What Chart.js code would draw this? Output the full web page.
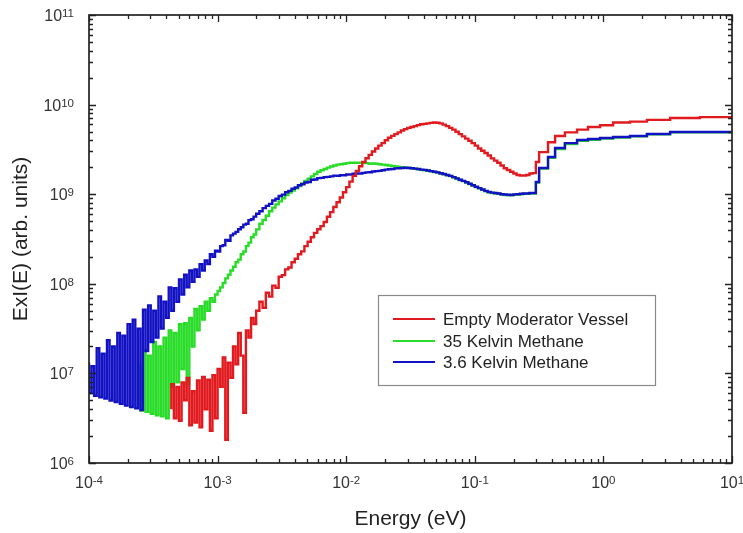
<!DOCTYPE html>
<html>
<head>
<meta charset="utf-8">
<script src="https://cdn.jsdelivr.net/npm/chart.js@4.4.1/dist/chart.umd.min.js"></script>
<style>
html,body{margin:0;padding:0;background:#fff;}
canvas{display:block;}
</style>
</head>
<body>
<canvas id="c" width="743" height="533"></canvas>
<script>
// ---- data ----
const lowEnergy = [1.000e-4,1.047e-4,1.096e-4,1.148e-4,1.202e-4,1.259e-4,1.318e-4,1.380e-4,1.445e-4,1.514e-4,
  1.585e-4,1.660e-4,1.738e-4,1.820e-4,1.905e-4,1.995e-4,2.089e-4,2.188e-4,2.291e-4,2.399e-4,
  2.512e-4,2.630e-4,2.754e-4,2.884e-4,3.020e-4,3.162e-4,3.311e-4,3.467e-4,3.631e-4,3.802e-4,
  3.981e-4,4.169e-4,4.365e-4,4.571e-4,4.786e-4,5.012e-4,5.248e-4,5.495e-4,5.754e-4,6.026e-4,
  6.310e-4,6.607e-4,6.918e-4,7.244e-4,7.586e-4,7.943e-4,8.318e-4,8.710e-4,9.120e-4,9.550e-4,
  1.000e-3,1.047e-3,1.096e-3,1.148e-3,1.202e-3,1.259e-3,1.318e-3,1.380e-3,1.445e-3,1.514e-3,
  1.585e-3,1.660e-3,1.738e-3,1.820e-3,1.905e-3,1.995e-3];

const blueLow = [1.32e7,6.03e6,1.20e7,5.62e6,1.91e7,5.42e6,1.66e7,5.25e6,2.34e7,4.98e6,
  2.00e7,4.79e6,2.82e7,4.57e6,2.63e7,4.37e6,3.55e7,4.20e6,3.98e7,4.07e6,
  3.16e7,3.89e6,5.13e7,1.78e7,5.75e7,2.24e7,5.01e7,2.51e7,7.24e7,3.16e7,
  6.31e7,4.17e7,9.12e7,5.01e7,8.91e7,6.31e7,1.12e8,7.59e7,1.26e8,9.12e7,
  1.41e8,1.05e8,1.45e8,1.20e8,1.66e8,1.41e8,1.82e8,1.66e8,2.14e8,2.00e8,
  2.34e8,2.29e8,2.63e8,2.69e8,3.09e8,3.02e8,3.47e8,3.63e8,3.80e8,4.07e8,
  4.27e8,4.57e8,4.68e8,5.13e8,5.25e8,5.62e8];

const greenLow = [null,null,null,null,null,null,null,null,null,null,
  null,null,null,null,null,null,null,null,null,null,
  1.26e7,3.86e6,1.82e7,3.72e6,1.58e7,3.55e6,2.24e7,3.40e6,2.00e7,3.31e6,
  2.51e7,3.16e6,3.02e7,7.08e6,2.82e7,7.94e6,3.55e7,1.12e7,3.63e7,7.59e6,
  4.17e7,2.00e7,5.25e7,3.02e7,5.62e7,3.98e7,6.31e7,5.01e7,6.92e7,6.31e7,
  7.59e7,8.32e7,9.12e7,1.02e8,1.15e8,1.26e8,1.41e8,1.55e8,1.74e8,1.86e8,
  2.14e8,2.29e8,2.63e8,2.88e8,3.31e8,3.55e8];

const redLow = [null,null,null,null,null,null,null,null,null,null,
  null,null,null,null,null,null,null,null,null,null,
  null,null,null,null,null,null,null,null,null,null,
  null,null,3.98e6,7.59e6,3.16e6,7.08e6,2.95e6,7.94e6,5.01e6,8.91e6,
  2.63e6,6.31e6,2.82e6,8.32e6,2.51e6,9.12e6,3.98e6,8.51e6,2.29e6,9.55e6,
  3.16e6,1.12e7,7.08e6,1.51e7,1.82e6,1.32e7,8.91e6,2.00e7,1.26e7,2.82e7,
  1.58e7,3.63e6,3.02e7,2.51e7,4.17e7,3.55e7];

const energy = [2.113e-3,2.239e-3,2.371e-3,2.512e-3,2.661e-3,2.818e-3,2.985e-3,3.162e-3,3.350e-3,3.548e-3,
  3.758e-3,3.981e-3,4.217e-3,4.467e-3,4.732e-3,5.012e-3,5.309e-3,5.623e-3,5.957e-3,6.310e-3,
  6.683e-3,7.079e-3,7.499e-3,7.943e-3,8.414e-3,8.913e-3,9.441e-3,
  1.000e-2,1.059e-2,1.122e-2,1.189e-2,1.259e-2,1.334e-2,1.413e-2,1.496e-2,1.585e-2,1.679e-2,
  1.778e-2,1.884e-2,1.995e-2,2.113e-2,2.239e-2,2.371e-2,2.512e-2,2.661e-2,2.818e-2,2.985e-2,
  3.162e-2,3.350e-2,3.548e-2,3.758e-2,3.981e-2,4.217e-2,4.467e-2,4.732e-2,5.012e-2,5.309e-2,
  5.623e-2,5.957e-2,6.310e-2,6.683e-2,7.079e-2,7.499e-2,7.943e-2,8.414e-2,8.913e-2,9.441e-2,
  0.1000,0.1059,0.1122,0.1189,0.1259,0.1334,0.1413,0.1496,0.1585,0.1679,
  0.1778,0.1884,0.1995,0.2113,0.2239,0.2371,0.2512,0.2661,0.2818,0.2985,0.3162,
  0.371,0.421,0.502,0.624,0.759,0.942,1.19,1.61,2.18,3.30,5.64,10];

const redMain = [5.0e7,6.31e7,5.4e7,7.94e7,7.2e7,9.55e7,9.0e7,1.20e8,1.25e8,1.45e8,
  1.52e8,1.74e8,1.90e8,2.14e8,2.30e8,2.63e8,2.95e8,3.31e8,3.70e8,4.07e8,
  4.40e8,4.90e8,5.60e8,6.31e8,7.20e8,8.13e8,9.20e8,1.05e9,1.20e9,1.38e9,
  1.60e9,1.82e9,2.05e9,2.29e9,2.52e9,2.75e9,3.00e9,3.24e9,3.48e9,3.72e9,
  4.00e9,4.27e9,4.48e9,4.68e9,4.90e9,5.13e9,5.32e9,5.50e9,5.62e9,5.75e9,
  5.90e9,6.03e9,6.10e9,6.17e9,6.25e9,6.31e9,6.28e9,6.17e9,5.98e9,5.75e9,
  5.50e9,5.25e9,4.97e9,4.68e9,4.42e9,4.17e9,3.95e9,3.72e9,3.48e9,3.24e9,
  3.05e9,2.88e9,2.70e9,2.51e9,2.37e9,2.24e9,2.09e9,1.95e9,1.86e9,1.78e9,
  1.70e9,1.64e9,1.62e9,1.62e9,1.64e9,1.70e9,1.72e9,2.29e9,
  2.95e9,3.80e9,4.47e9,4.90e9,5.25e9,5.62e9,5.89e9,6.31e9,6.46e9,6.76e9,7.08e9,7.24e9];

const greenMain = [4.05e8,4.68e8,5.15e8,5.75e8,6.45e8,7.08e8,7.70e8,8.32e8,9.00e8,9.77e8,
  1.04e9,1.10e9,1.16e9,1.23e9,1.32e9,1.41e9,1.49e9,1.58e9,1.68e9,1.78e9,
  1.85e9,1.91e9,1.98e9,2.04e9,2.09e9,2.14e9,2.16e9,2.19e9,2.22e9,2.24e9,
  2.24e9,2.24e9,2.25e9,2.24e9,2.22e9,2.19e9,2.20e9,2.19e9,2.16e9,2.14e9,
  2.12e9,2.09e9,2.07e9,2.04e9,2.02e9,2.00e9,1.98e9,1.97e9,1.94e9,1.92e9,
  1.90e9,1.87e9,1.85e9,1.83e9,1.80e9,1.77e9,1.74e9,1.70e9,1.67e9,1.63e9,
  1.59e9,1.54e9,1.49e9,1.44e9,1.40e9,1.35e9,1.30e9,1.25e9,1.20e9,1.16e9,
  1.12e9,1.08e9,1.05e9,1.03e9,1.02e9,1.01e9,9.90e8,9.80e8,9.75e8,9.80e8,
  9.85e8,9.90e8,1.00e9,1.01e9,1.01e9,1.02e9,1.02e9,1.35e9,
  1.93e9,2.55e9,3.20e9,3.62e9,3.95e9,4.05e9,4.17e9,4.30e9,4.42e9,4.66e9,4.90e9,4.90e9];

const blueMain = [6.05e8,6.46e8,7.00e8,7.41e8,7.80e8,8.51e8,8.90e8,9.55e8,9.90e8,1.05e9,
  1.09e9,1.15e9,1.19e9,1.26e9,1.29e9,1.35e9,1.37e9,1.45e9,1.46e9,1.51e9,
  1.52e9,1.55e9,1.56e9,1.58e9,1.61e9,1.60e9,1.63e9,1.63e9,1.66e9,1.66e9,
  1.69e9,1.70e9,1.70e9,1.73e9,1.75e9,1.76e9,1.79e9,1.81e9,1.82e9,1.85e9,
  1.88e9,1.90e9,1.91e9,1.94e9,1.95e9,1.96e9,1.97e9,1.96e9,1.95e9,1.93e9,
  1.91e9,1.88e9,1.87e9,1.84e9,1.81e9,1.78e9,1.75e9,1.71e9,1.68e9,1.64e9,
  1.60e9,1.55e9,1.50e9,1.45e9,1.41e9,1.36e9,1.31e9,1.26e9,1.21e9,1.17e9,
  1.13e9,1.09e9,1.06e9,1.04e9,1.03e9,1.02e9,1.00e9,9.91e8,9.85e8,9.80e8,
  9.95e8,1.00e9,1.01e9,1.02e9,1.02e9,1.03e9,1.03e9,1.37e9,
  1.96e9,2.60e9,3.28e9,3.72e9,4.03e9,4.13e9,4.24e9,4.35e9,4.47e9,4.70e9,4.94e9,4.94e9];

const seriesNames = ['Empty Moderator Vessel', '35 Kelvin Methane', '3.6 Kelvin Methane'];
const seriesColors = ['#e01a1e', '#28dc28', '#1212c4'];

const xDecades = [1e-4, 1e-3, 1e-2, 1e-1, 1, 10];
const xExponents = ['-4', '-3', '-2', '-1', '0', '1'];
const yDecades = [1e6, 1e7, 1e8, 1e9, 1e10, 1e11];
const yExponents = ['6', '7', '8', '9', '10', '11'];

const FONT = "'Liberation Sans', Arial, Helvetica, sans-serif";

function toPoints(lowY, mainY) {
  const pts = [];
  lowEnergy.forEach((e, i) => { if (lowY[i] !== null) pts.push({x: e, y: lowY[i]}); });
  energy.forEach((e, i) => pts.push({x: e, y: mainY[i]}));
  return pts;
}

function minorValues(decades) {
  const out = [];
  for (let i = 0; i < decades.length - 1; i++) {
    for (let m = 2; m <= 9; m++) out.push(decades[i] * m);
  }
  return out;
}

const framePlugin = {
  id: 'frame',
  afterDraw(chart) {
    const {ctx, chartArea: a, scales: {x, y}} = chart;
    ctx.save();
    ctx.strokeStyle = '#222';
    ctx.lineWidth = 1.3;
    ctx.beginPath();
    const xt = xDecades.map(v => [v, 7]).concat(minorValues(xDecades).map(v => [v, 4]));
    xt.forEach(([v, len]) => {
      const p = Math.round(x.getPixelForValue(v)) + 0.5;
      ctx.moveTo(p, a.bottom); ctx.lineTo(p, a.bottom - len);
      ctx.moveTo(p, a.top); ctx.lineTo(p, a.top + len);
    });
    const yt = yDecades.map(v => [v, 7]).concat(minorValues(yDecades).map(v => [v, 4]));
    yt.forEach(([v, len]) => {
      const p = Math.round(y.getPixelForValue(v)) + 0.5;
      ctx.moveTo(a.left, p); ctx.lineTo(a.left + len, p);
      ctx.moveTo(a.right, p); ctx.lineTo(a.right - len, p);
    });
    ctx.stroke();
    ctx.lineWidth = 1.7;
    ctx.strokeRect(a.left, a.top, a.right - a.left, a.bottom - a.top);

    ctx.fillStyle = '#333';
    ctx.textBaseline = 'alphabetic';
    const baseFont = '16px ' + FONT, expFont = '11.5px ' + FONT;
    xDecades.forEach((v, i) => {
      const p = x.getPixelForValue(v);
      ctx.font = baseFont; const w1 = ctx.measureText('10').width;
      ctx.font = expFont; const w2 = ctx.measureText(xExponents[i]).width;
      const x0 = p - (w1 + w2) / 2;
      ctx.font = baseFont; ctx.textAlign = 'left';
      ctx.fillText('10', x0, a.bottom + 25);
      ctx.font = expFont;
      ctx.fillText(xExponents[i], x0 + w1, a.bottom + 21);
    });
    yDecades.forEach((v, i) => {
      const p = y.getPixelForValue(v);
      ctx.font = baseFont; const w1 = ctx.measureText('10').width;
      ctx.font = expFont; const w2 = ctx.measureText(yExponents[i]).width;
      const xr = a.left - 15;
      ctx.textAlign = 'left';
      ctx.font = baseFont;
      ctx.fillText('10', xr - w2 - w1, p + 6);
      ctx.font = expFont;
      ctx.fillText(yExponents[i], xr - w2, p + 2);
    });

    ctx.strokeStyle = '#8a8a8a';
    ctx.lineWidth = 1.2;
    ctx.strokeRect(378.5, 295.5, 277, 90);
    const rows = [319, 341, 362];
    ctx.font = '17px ' + FONT;
    ctx.textAlign = 'left';
    ctx.textBaseline = 'middle';
    seriesNames.forEach((name, i) => {
      ctx.strokeStyle = seriesColors[i];
      ctx.lineWidth = 2;
      ctx.beginPath();
      ctx.moveTo(393, rows[i]); ctx.lineTo(435, rows[i]);
      ctx.stroke();
      ctx.fillStyle = '#222';
      ctx.fillText(name, 443, rows[i] + 1);
    });
    ctx.restore();
  }
};

const common = {borderWidth: 2.4, pointRadius: 0, stepped: 'after', fill: false, tension: 0, spanGaps: false};

new Chart(document.getElementById('c'), {
  type: 'line',
  data: {
    datasets: [
      Object.assign({label: seriesNames[0], data: toPoints(redLow, redMain), borderColor: seriesColors[0], order: 0}, common),
      Object.assign({label: seriesNames[1], data: toPoints(greenLow, greenMain), borderColor: seriesColors[1], order: 2}, common),
      Object.assign({label: seriesNames[2], data: toPoints(blueLow, blueMain), borderColor: seriesColors[2], order: 1}, common)
    ]
  },
  options: {
    responsive: false,
    animation: false,
    events: [],
    layout: {padding: {left: 0, right: 11, top: 15, bottom: 0}},
    plugins: {legend: {display: false}, tooltip: {enabled: false}},
    scales: {
      x: {
        type: 'logarithmic', min: 1e-4, max: 10,
        grid: {display: false}, border: {display: false},
        ticks: {display: false},
        afterBuildTicks: s => { s.ticks = xDecades.map(v => ({value: v})); },
        afterFit: s => { s.height = 70; s.paddingLeft = 0; s.paddingRight = 0; },
        title: {display: true, text: 'Energy (eV)', color: '#222', font: {family: FONT, size: 21}, padding: {top: 0, bottom: 1.5}}
      },
      y: {
        type: 'logarithmic', min: 1e6, max: 1e11,
        grid: {display: false}, border: {display: false},
        ticks: {display: false},
        afterBuildTicks: s => { s.ticks = yDecades.map(v => ({value: v})); },
        afterFit: s => { s.width = 89; s.paddingTop = 0; s.paddingBottom = 0; },
        title: {display: true, text: 'ExI(E) (arb. units)', color: '#222', font: {family: FONT, size: 21}, padding: {top: 8.5, bottom: 0}}
      }
    }
  },
  plugins: [framePlugin]
});
</script>
</body>
</html>
